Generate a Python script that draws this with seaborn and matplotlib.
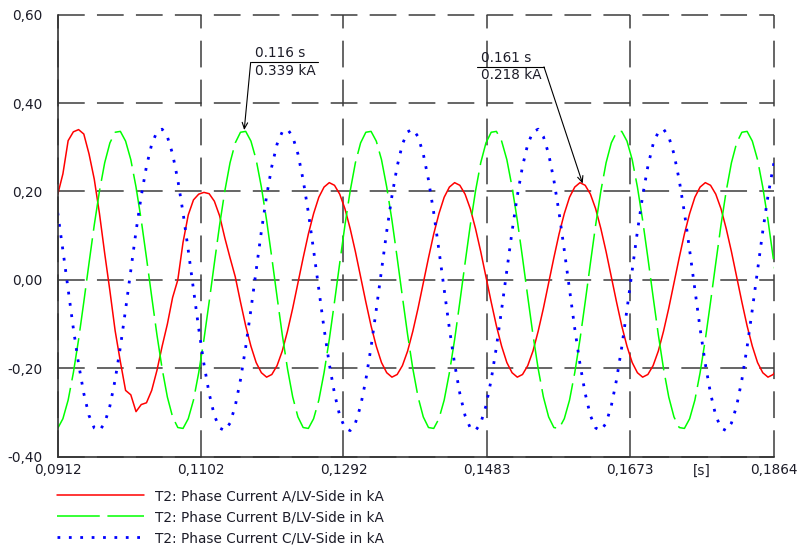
import numpy as np
import matplotlib
matplotlib.use('Agg')
import matplotlib.pyplot as plt
import seaborn as sns

# --- Data (one sample every 1/1440 s from 0.0912 s) ---
t_start = 0.0912
t_step = 1 / 1440

phase_a = [
    0.193, 0.240, 0.315, 0.335, 0.340, 0.330, 0.285, 0.228, 0.150, 0.060,
    -0.025, -0.115, -0.185, -0.250, -0.260, -0.298, -0.282, -0.278, -0.250, -0.205,
    -0.150, -0.100, -0.040, 0.000, 0.085, 0.147, 0.181, 0.194, 0.198, 0.195,
    0.178, 0.145, 0.095, 0.050,
    0.007, -0.050, -0.104, -0.150, -0.187, -0.210, -0.220, -0.214, -0.194, -0.161, -0.116, -0.064,
    -0.007, 0.050, 0.104, 0.150, 0.187, 0.210, 0.220, 0.214, 0.194, 0.161, 0.116, 0.064,
    0.007, -0.050, -0.104, -0.150, -0.187, -0.210, -0.220, -0.214, -0.194, -0.161, -0.116, -0.064,
    -0.007, 0.050, 0.104, 0.150, 0.187, 0.210, 0.220, 0.214, 0.194, 0.161, 0.116, 0.064,
    0.007, -0.050, -0.104, -0.150, -0.187, -0.210, -0.220, -0.214, -0.194, -0.161, -0.116, -0.064,
    -0.007, 0.050, 0.104, 0.150, 0.187, 0.210, 0.220, 0.214, 0.194, 0.161, 0.116, 0.064,
    0.007, -0.050, -0.104, -0.150, -0.187, -0.210, -0.220, -0.214, -0.194, -0.161, -0.116, -0.064,
    -0.007, 0.050, 0.104, 0.150, 0.187, 0.210, 0.220, 0.214, 0.194, 0.161, 0.116, 0.064,
    0.007, -0.050, -0.104, -0.150, -0.187, -0.210, -0.220, -0.214, -0.194,
]

phase_b = [
    -0.336, -0.314, -0.272, -0.210, -0.135, -0.050, 0.038, 0.124, 0.201, 0.265, 0.310, 0.334,
    0.336, 0.314, 0.272, 0.210, 0.135, 0.050, -0.038, -0.124, -0.201, -0.265, -0.310, -0.334,
    -0.336, -0.314, -0.272, -0.210, -0.135, -0.050, 0.038, 0.124, 0.201, 0.265, 0.310, 0.334,
    0.336, 0.314, 0.272, 0.210, 0.135, 0.050, -0.038, -0.124, -0.201, -0.265, -0.310, -0.334,
    -0.336, -0.314, -0.272, -0.210, -0.135, -0.050, 0.038, 0.124, 0.201, 0.265, 0.310, 0.334,
    0.336, 0.314, 0.272, 0.210, 0.135, 0.050, -0.038, -0.124, -0.201, -0.265, -0.310, -0.334,
    -0.336, -0.314, -0.272, -0.210, -0.135, -0.050, 0.038, 0.124, 0.201, 0.265, 0.310, 0.334,
    0.336, 0.314, 0.272, 0.210, 0.135, 0.050, -0.038, -0.124, -0.201, -0.265, -0.310, -0.334,
    -0.336, -0.314, -0.272, -0.210, -0.135, -0.050, 0.038, 0.124, 0.201, 0.265, 0.310, 0.334,
    0.336, 0.314, 0.272, 0.210, 0.135, 0.050, -0.038, -0.124, -0.201, -0.265, -0.310, -0.334,
    -0.336, -0.314, -0.272, -0.210, -0.135, -0.050, 0.038, 0.124, 0.201, 0.265, 0.310, 0.334,
    0.336, 0.314, 0.272, 0.210, 0.135, 0.050, -0.038,
]

phase_c = [
    0.152, 0.067, -0.022, -0.110, -0.190, -0.257, -0.307, -0.335, -0.341, -0.324, -0.285, -0.226,
    -0.152, -0.067, 0.022, 0.110, 0.190, 0.257, 0.307, 0.335, 0.341, 0.324, 0.285, 0.226,
    0.152, 0.067, -0.022, -0.110, -0.190, -0.257, -0.307, -0.335, -0.341, -0.324, -0.285, -0.226,
    -0.152, -0.067, 0.022, 0.110, 0.190, 0.257, 0.307, 0.335, 0.341, 0.324, 0.285, 0.226,
    0.152, 0.067, -0.022, -0.110, -0.190, -0.257, -0.307, -0.335, -0.341, -0.324, -0.285, -0.226,
    -0.152, -0.067, 0.022, 0.110, 0.190, 0.257, 0.307, 0.335, 0.341, 0.324, 0.285, 0.226,
    0.152, 0.067, -0.022, -0.110, -0.190, -0.257, -0.307, -0.335, -0.341, -0.324, -0.285, -0.226,
    -0.152, -0.067, 0.022, 0.110, 0.190, 0.257, 0.307, 0.335, 0.341, 0.324, 0.285, 0.226,
    0.152, 0.067, -0.022, -0.110, -0.190, -0.257, -0.307, -0.335, -0.341, -0.324, -0.285, -0.226,
    -0.152, -0.067, 0.022, 0.110, 0.190, 0.257, 0.307, 0.335, 0.341, 0.324, 0.285, 0.226,
    0.152, 0.067, -0.022, -0.110, -0.190, -0.257, -0.307, -0.335, -0.341, -0.324, -0.285, -0.226,
    -0.152, -0.067, 0.022, 0.110, 0.190, 0.257, 0.307,
]

labels = ['T2: Phase Current A/LV-Side in kA',
          'T2: Phase Current B/LV-Side in kA',
          'T2: Phase Current C/LV-Side in kA']

x_ticks = [0.0912, 0.1102, 0.1292, 0.1483, 0.1673, 0.1864]
x_tick_labels = ['0,0912', '0,1102', '0,1292', '0,1483', '0,1673', '0,1864']
x_minor = [0.1007, 0.1197, 0.13875, 0.1578, 0.17685]
x_minor_labels = ['', '', '', '', '[s]']
y_ticks = [-0.40, -0.20, 0.00, 0.20, 0.40, 0.60]
y_tick_labels = ['-0,40', '-0,20', '0,00', '0,20', '0,40', '0,60']
y_minor = [-0.30, -0.10, 0.10, 0.30, 0.50]

# annotated points (time in s, current in kA)
ann_t = [0.116, 0.161]
ann_i = [0.339, 0.218]

t = t_start + t_step * np.arange(len(phase_a))

# --- Plot ---
sns.set_style('white')
plt.rcParams['font.family'] = ['DejaVu Sans']
plt.rcParams['font.size'] = 9.8
text_color = '#1c1c28'
grid_color = '#3c3c3c'

fig = plt.figure(figsize=(7.99, 5.48), dpi=100)
ax = fig.add_axes([0.0722, 0.1666, 0.8961, 0.8066])

sns.lineplot(x=t, y=phase_a, color='#ff0000', lw=1.1, ax=ax, label=labels[0])
sns.lineplot(x=t, y=phase_b, color='#00ff00', lw=1.1, ax=ax, label=labels[1],
             linestyle=(0, (28, 5)))
sns.lineplot(x=t, y=phase_c, color='#0000ff', lw=2.0, ax=ax, label=labels[2],
             linestyle=(0, (1, 3.1)), dash_capstyle='butt')

ax.set_xlim(x_ticks[0], x_ticks[-1])
ax.set_ylim(y_ticks[0], y_ticks[-1])
ax.set_xticks(x_ticks, x_tick_labels)
ax.set_xticks(x_minor, x_minor_labels, minor=True)
ax.set_yticks(y_ticks, y_tick_labels)
ax.set_yticks(y_minor, minor=True)
ax.set_xlabel('')
ax.set_ylabel('')

ax.tick_params(which='major', length=0, labelcolor=text_color)
ax.tick_params(axis='x', which='both', pad=4.8, labelcolor=text_color)
ax.tick_params(axis='y', which='major', pad=10.8)
ax.tick_params(which='minor', direction='in', length=5.5, width=1.0, color='#333333')

for side in ['top', 'right']:
    ax.spines[side].set_visible(False)
for side in ['left', 'bottom']:
    ax.spines[side].set_color('#333333')
    ax.spines[side].set_linewidth(1.2)

ax.grid(True, which='major', color=grid_color, lw=1.1, linestyle=(0, (17.5, 8)))
for gl in ax.get_xgridlines() + ax.get_ygridlines():
    gl.set_clip_on(False)

# annotations with underline and leader
ann_boxes = [(0.11686, 0.12585, 0.492, 'left'), (0.14691, 0.15586, 0.482, 'right')]
for (x0, x1, yl, side), at, ai in zip(ann_boxes, ann_t, ann_i):
    ax.plot([x0, x1], [yl, yl], color='black', lw=0.8)
    xa = x0 if side == 'left' else x1
    ax.annotate('', xy=(at, ai), xytext=(xa, yl),
                arrowprops=dict(arrowstyle='->,head_length=0.45,head_width=0.2',
                                color='black', lw=0.8, shrinkA=0, shrinkB=0))
    ax.annotate(f'{at:.3f} s', xy=(x0, yl), xytext=(3, 1.5), textcoords='offset points',
                ha='left', va='bottom', color=text_color)
    ax.annotate(f'{ai:.3f} kA', xy=(x0, yl), xytext=(3, -1), textcoords='offset points',
                ha='left', va='top', color=text_color)

ax.legend(loc='upper left', bbox_to_anchor=(57.3 / 799, 1 - 489 / 548),
          bbox_transform=fig.transFigure, frameon=False, borderpad=0, borderaxespad=0,
          handlelength=6.4, handletextpad=0.75, labelspacing=0.52, fontsize=9.8,
          labelcolor=text_color)

fig.savefig('out.png', dpi=100)
print('Plot saved to out.png')
